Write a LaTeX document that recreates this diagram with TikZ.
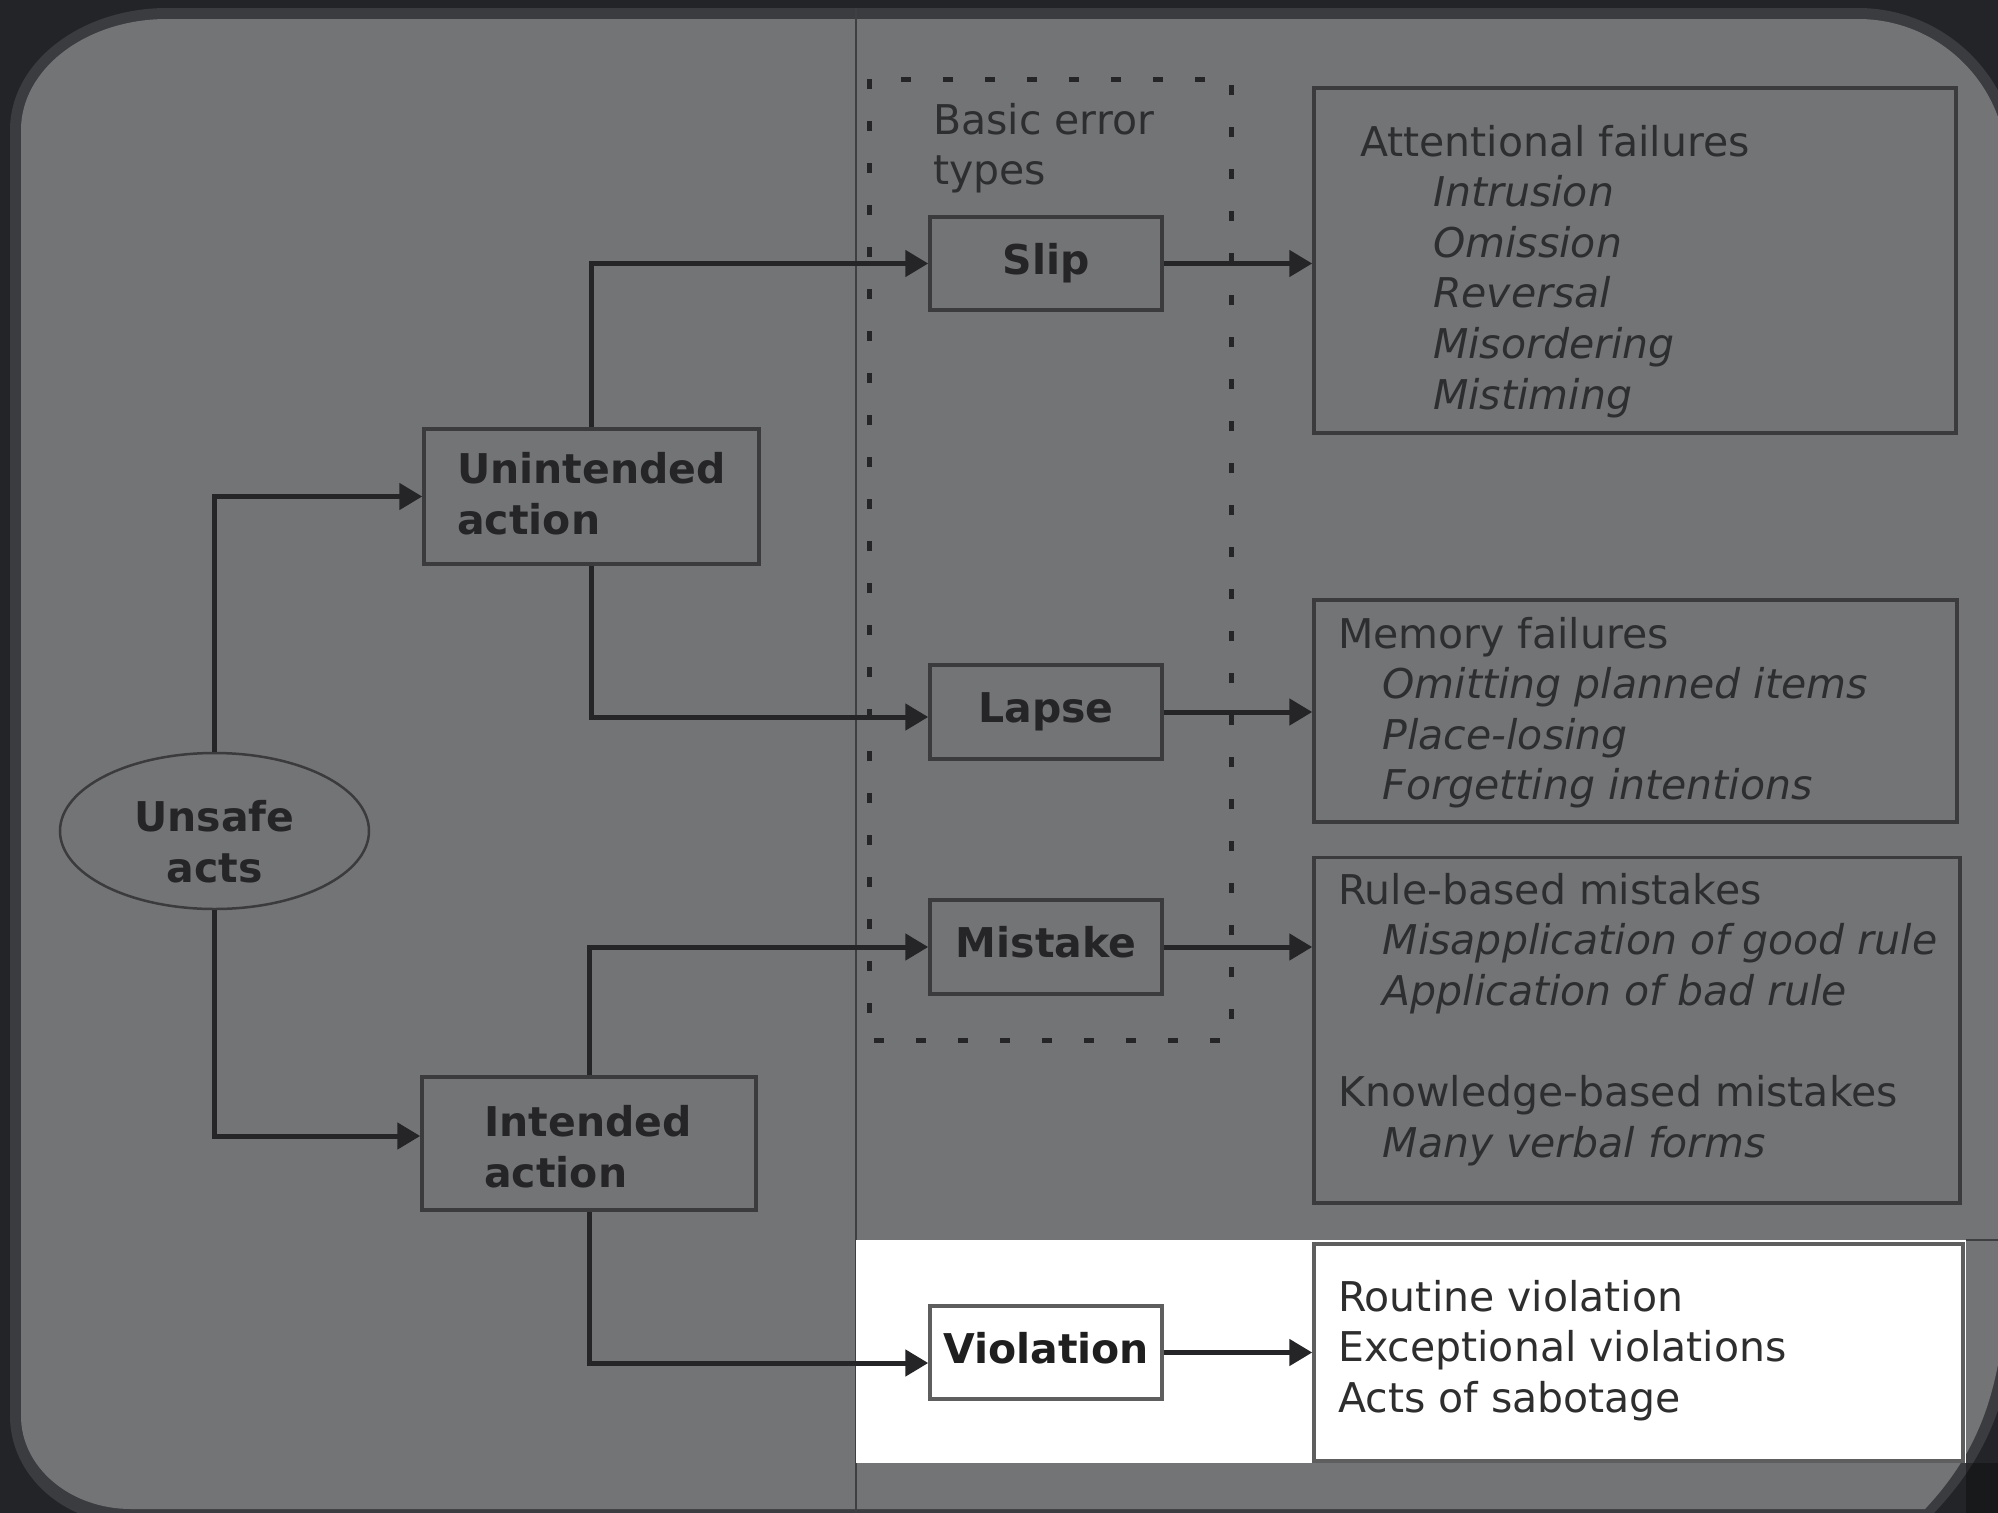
\documentclass[tikz,border=0pt]{standalone}
\usepackage{fontspec}
\setmainfont{DejaVu Sans}[BoldFont={DejaVu Sans Bold},ItalicFont={DejaVu Sans Oblique},BoldItalicFont={DejaVu Sans Bold Oblique}]
\usetikzlibrary{arrows.meta,shapes.geometric}
\definecolor{bgdark}{HTML}{232427}
\definecolor{rimc}{HTML}{3B3C3F}
\definecolor{panel}{HTML}{737476}
\definecolor{ink}{HTML}{252527}
\definecolor{txtc}{HTML}{2D2E30}
\definecolor{boxline}{HTML}{3B3B3D}
\definecolor{sepline}{HTML}{3E3F41}
\definecolor{wline}{HTML}{5E5E5E}
\begin{document}
\begin{tikzpicture}[x=1pt,y=-1pt,
  conn/.style={draw=ink, line width=5pt, -{Triangle[length=23pt,width=26pt]}},
  errbox/.style={draw=boxline, line width=3.5pt, minimum width=232pt, minimum height=93pt, inner sep=0pt,
    font=\fontsize{41}{51}\selectfont\bfseries, text=ink, text height=31pt, text depth=10pt},
  catbox/.style={draw=boxline, line width=3.5pt, inner sep=0pt},
  listbox/.style={draw=boxline, line width=3.5pt, inner sep=0pt},
  lbl/.style={font=\fontsize{41}{51}\selectfont, text=txtc, inner sep=0pt, anchor=base west},
  ilbl/.style={font=\fontsize{41}{51}\selectfont\itshape, text=txtc, inner sep=0pt, anchor=base west},
  blbl/.style={font=\fontsize{41}{51}\selectfont\bfseries, text=ink, inner sep=0pt, anchor=base west},
  dotbox/.style={draw=ink, line width=5pt, dash pattern=on 10pt off 32pt},
]
\useasboundingbox (0,0) rectangle (1998,1513);
% frame
\fill[bgdark] (0,0) rectangle (1998,1513);
\fill[rimc] (10,130) .. controls (10,62.6) and (80.3,8) .. (167,8)
  -- (1858,8) .. controls (1946.4,8) and (2018,79.6) .. (2018,168)
  -- (2018,1250) .. controls (2018,1380) and (2000,1460) .. (1900,1545)
  -- (131,1524) .. controls (64.2,1524) and (10,1475.6) .. (10,1416) -- cycle;
\fill[panel] (21,130) .. controls (21,68.7) and (86.4,19) .. (167,19)
  -- (1858,19) .. controls (1940.3,19) and (2007,85.7) .. (2007,168)
  -- (2007,1250) .. controls (2007,1375) and (1985,1445) .. (1925,1509)
  -- (131,1509) .. controls (70.2,1509) and (21,1467.4) .. (21,1416) -- cycle;
\fill[black, opacity=0.3] (1966,1463) rectangle (1998,1513);
\draw[sepline, line width=2pt] (856,8) -- (856,1513);
\fill[white] (856,1240) rectangle (1966,1463);
\draw[sepline, line width=1.5pt] (1966,1240) -- (1998,1240);
% basic error types frame
\draw[dotbox] (869,79) rectangle (1231,1040);
\node[lbl] (bet1) at (933,134) {Basic error};
\node[lbl] (bet2) at (933,184) {types};
% left nodes
\node[ellipse, draw=boxline, line width=2.5pt, minimum width=309pt, minimum height=156pt, inner sep=0pt] (us) at (214.5,831) {};
\node[blbl, anchor=base] (ust1) at (214.5,831) {Unsafe};
\node[blbl, anchor=base] (ust2) at (214.5,882) {acts};
\node[catbox, minimum width=335pt, minimum height=135pt] (ua) at (591.5,496.5) {};
\node[blbl] (uat1) at (457,483) {Unintended};
\node[blbl] (uat2) at (457,534) {action};
\node[catbox, minimum width=334pt, minimum height=133pt] (ia) at (589,1143.5) {};
\node[blbl] (iat1) at (484,1136) {Intended};
\node[blbl] (iat2) at (484,1187) {action};
% error type boxes
\node[errbox] (slip) at (1046,263.5) {Slip};
\node[errbox, minimum height=94pt] (lapse) at (1046,712) {Lapse};
\node[errbox, minimum height=94pt] (mist) at (1046,947) {Mistake};
\node[errbox, draw=wline, fill=white, text=black!88] (viol) at (1046,1352.5) {Violation};
% right boxes
\node[listbox, minimum width=642pt, minimum height=345pt] (att) at (1635,260.5) {};
\node[lbl] (att0) at (1360,156) {Attentional failures};
\node[ilbl] (att1) at (1433,206.6) {Intrusion};
\node[ilbl] (att2) at (1433,257.2) {Omission};
\node[ilbl] (att3) at (1433,307.8) {Reversal};
\node[ilbl] (att4) at (1433,358.4) {Misordering};
\node[ilbl] (att5) at (1433,409) {Mistiming};
\node[listbox, minimum width=643pt, minimum height=222pt] (mem) at (1635.5,711) {};
\node[lbl] (mem0) at (1338,648) {Memory failures};
\node[ilbl] (mem1) at (1382.5,698.6) {Omitting planned items};
\node[ilbl] (mem2) at (1382.5,749.2) {Place-losing};
\node[ilbl] (mem3) at (1382.5,799.8) {Forgetting intentions};
\node[listbox, minimum width=646pt, minimum height=345.5pt] (rule) at (1637,1030.25) {};
\node[lbl] (rule0) at (1338,904) {Rule-based mistakes};
\node[ilbl] (rule1) at (1382.5,954.6) {Misapplication of good rule};
\node[ilbl] (rule2) at (1382.5,1005.2) {Application of bad rule};
\node[lbl] (rule3) at (1338,1106.4) {Knowledge-based mistakes};
\node[ilbl] (rule4) at (1382.5,1157) {Many verbal forms};
\node[listbox, draw=wline, fill=white, minimum width=649pt, minimum height=217pt] (vbox) at (1638.5,1352.5) {};
\node[lbl, text=black!82] (vb1) at (1338,1311) {Routine violation};
\node[lbl, text=black!82] (vb2) at (1338,1361.6) {Exceptional violations};
\node[lbl, text=black!82] (vb3) at (1338,1412.2) {Acts of sabotage};
% connectors
\draw[conn] (us.north) |- (ua.west);
\draw[conn] (us.south) |- ([yshift=7.5pt]ia.west);
\draw[conn] (ua.north) |- (slip.west);
\draw[conn] (ua.south) |- ([yshift=-5pt]lapse.west);
\draw[conn] (ia.north) |- (mist.west);
\draw[conn] (ia.south) |- ([yshift=-10.5pt]viol.west);
\draw[conn] (slip.east) -- (slip.east -| att.west);
\draw[conn] (lapse.east) -- (lapse.east -| mem.west);
\draw[conn] (mist.east) -- (mist.east -| rule.west);
\draw[conn] (viol.east) -- (viol.east -| vbox.west);
\end{tikzpicture}
\end{document}
